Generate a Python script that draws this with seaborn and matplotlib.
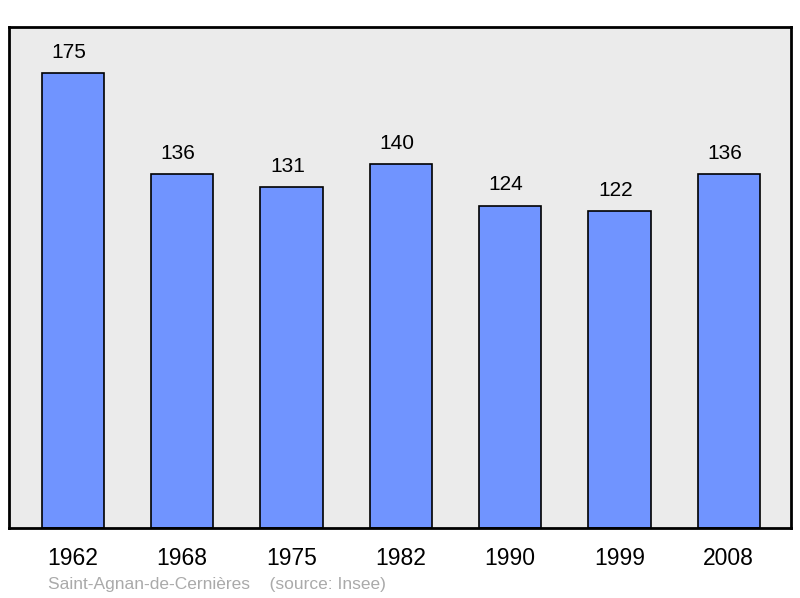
import pandas as pd
import matplotlib.pyplot as plt
import seaborn as sns

# population data
years = ["1962", "1968", "1975", "1982", "1990", "1999", "2008"]
population = [175, 136, 131, 140, 124, 122, 136]

df = pd.DataFrame({"year": years, "population": population})

sns.set_style("white")
plt.rcParams["font.family"] = ["Liberation Sans", "DejaVu Sans"]

fig = plt.figure(figsize=(8, 5.98), dpi=100)
ax = fig.add_axes([0.01125, 0.117, 0.9775, 0.838])
ax.set_facecolor("#ebebeb")

sns.barplot(data=df, x="year", y="population", color="#7094ff", saturation=1,
            width=0.57, edgecolor="black", linewidth=1.2, ax=ax)

# value labels above bars
for i, v in enumerate(population):
    ax.annotate(str(v), (i, v), xytext=(-3, 8), textcoords="offset points",
                ha="center", va="bottom", fontsize=15, color="black")

ax.set_xlim(-0.585, 6.57)
ax.set_ylim(0, 192.7)
ax.set_yticks([])
ax.set_xlabel("")
ax.set_ylabel("")
ax.tick_params(axis="x", length=0, labelsize=16.5, pad=14, labelcolor="black")
for s in ax.spines.values():
    s.set_linewidth(2)
    s.set_color("black")

fig.text(0.06, 0.01, "Saint-Agnan-de-Cernières    (source: Insee)",
         color="#aaaaaa", fontsize=12.5, ha="left", va="bottom")

fig.savefig("out.png", dpi=100)
